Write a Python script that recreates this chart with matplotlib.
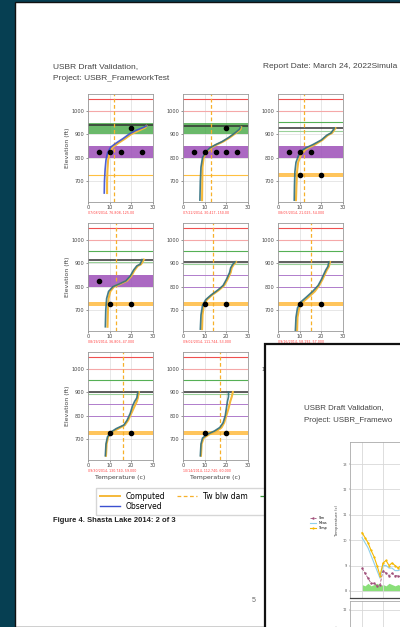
import matplotlib.pyplot as plt
from matplotlib.patches import Rectangle
from matplotlib.lines import Line2D

W, H = 400, 627

# ---- profile data (temperature in c, elevation in ft) ----
obs_temp = [
    [7.5, 7.6, 7.9, 8.3, 9.0, 10.5, 13.0, 16.0, 19.0, 22.0, 25.5, 27.0],
    [7.8, 8.0, 8.3, 9.0, 10.5, 12.5, 15.0, 18.0, 21.0, 24.0, 26.0, 26.5],
    [7.5, 7.6, 7.8, 8.3, 9.5, 11.0, 13.0, 16.0, 20.0, 22.5, 24.5, 26.0],
    [8.0, 8.2, 8.6, 9.5, 11.5, 14.5, 17.5, 19.5, 21.0, 22.5, 24.0, 25.0],
    [8.0, 8.3, 9.0, 10.5, 13.0, 16.0, 18.5, 20.0, 21.5, 22.0, 23.0, 24.0],
    [8.0, 8.3, 9.0, 10.5, 13.0, 16.0, 18.5, 20.0, 21.0, 22.0, 23.0, 23.5],
    [8.0, 8.3, 9.0, 10.5, 13.0, 16.5, 18.0, 19.5, 20.5, 21.5, 22.5, 23.0],
    [8.0, 8.3, 9.0, 11.0, 14.5, 17.0, 18.5, 19.5, 20.0, 20.5, 21.0, 21.0],
    [8.0, 8.3, 9.0, 11.0, 14.5, 17.0, 18.5, 19.5, 20.0, 20.5, 21.0, 21.0],
]
obs_elev = [
    [650, 700, 750, 790, 820, 845, 862, 880, 900, 915, 928, 935],
    [620, 700, 760, 800, 825, 842, 855, 868, 885, 905, 920, 930],
    [620, 680, 740, 780, 810, 830, 842, 855, 875, 895, 905, 925],
    [630, 700, 750, 780, 800, 812, 825, 845, 870, 888, 895, 915],
    [620, 680, 720, 745, 765, 785, 805, 830, 860, 880, 895, 905],
    [610, 670, 710, 735, 755, 780, 805, 830, 850, 870, 885, 905],
    [630, 680, 710, 730, 745, 760, 780, 810, 840, 860, 875, 900],
    [630, 680, 705, 720, 735, 750, 770, 800, 830, 860, 880, 900],
    [630, 680, 705, 720, 735, 750, 770, 800, 830, 860, 880, 900],
]
comp_temp = [
    [8.8, 8.8, 9.0, 9.3, 10.0, 11.5, 14.0, 17.0, 20.0, 23.5, 26.5, 27.0],
    [8.8, 8.9, 9.0, 9.5, 11.0, 13.0, 15.5, 18.5, 21.5, 24.5, 26.5, 26.8],
    [8.3, 8.5, 8.8, 9.3, 10.5, 12.0, 14.0, 17.0, 20.5, 23.0, 25.0, 26.5],
    [9.0, 9.2, 9.5, 10.3, 12.0, 15.0, 18.0, 20.0, 21.5, 23.0, 24.5, 25.8],
    [8.8, 9.0, 9.6, 11.0, 13.5, 16.5, 19.0, 20.5, 22.0, 22.5, 23.5, 24.5],
    [8.8, 9.0, 9.8, 11.5, 14.0, 17.0, 19.0, 20.5, 21.5, 22.5, 23.5, 24.0],
    [8.3, 8.6, 9.3, 11.0, 14.0, 17.0, 18.5, 20.0, 21.5, 22.5, 23.0, 23.5],
    [8.3, 8.6, 9.5, 12.0, 15.5, 17.8, 19.0, 20.0, 21.0, 21.8, 22.5, 23.0],
    [8.3, 8.6, 9.5, 12.0, 15.5, 17.8, 19.0, 20.0, 21.0, 21.8, 22.5, 23.0],
]
comp_elev = obs_elev

dot_temp = [[5, 10, 15, 25, 20], [5, 10, 15, 20, 25, 20], [5, 10, 15, 10, 20],
            [5, 10, 20], [10, 20], [10, 20], [10, 20], [10, 20], [10, 20]]
dot_elev = [[825, 825, 825, 825, 925], [825, 825, 825, 825, 825, 925],
            [825, 825, 825, 725, 725], [825, 725, 725], [725, 725],
            [725, 725], [725, 725], [725, 725], [725, 725]]

tw_dam = [12, 13, 12, 13, 14, 15, 16, 17, 17]
dark_elev = [940, 935, 925, 915, 905, 905, 900, 900, 900]
green_band = [True, True, False, False, False, False, False, False, False]
purple_band = [True, True, True, True, False, False, False, False, False]
orange_band = [False, False, True, True, True, True, True, True, True]

date_notes = ["07/08/2014, 76.808, 125.00", "07/22/2014, 30.417, 150.00",
              "08/05/2014, 21.025, 54.000", "08/19/2014, 36.806, 47.000",
              "09/02/2014, 111.744, 53.000", "09/16/2014, 58.192, 57.000",
              "09/30/2014, 130.740, 59.000", "10/14/2014, 112.740, 60.000",
              "10/28/2014, 98.110, 61.000"]

# ---- second page time series ----
days = [0, 1, 2, 3, 4, 5, 6, 7, 8, 9, 10, 11, 12, 13, 14]
temp_series = [10.3, 10.1, 9.9, 9.6, 9.35, 9.0, 8.6, 9.1, 9.2, 9.0, 9.1, 9.0, 8.9, 9.0, 8.9]
meas_series = [10.1, 9.9, 9.7, 9.4, 9.1, 8.8, 8.5, 9.0, 9.0, 8.9, 8.9, 8.8, 8.8, 8.85, 8.8]
sim_series = [8.9, 8.7, 8.5, 8.3, 8.3, 8.2, 8.25, 8.8, 8.7, 8.6, 8.7, 8.6, 8.6, 8.55, 8.6]
band_top = [8.25, 8.2, 8.3, 8.2, 8.25, 8.3, 8.2, 8.25, 8.2, 8.3, 8.25, 8.2, 8.25, 8.2, 8.25]


def box(x, y, w, h):
    return [x / W, 1 - (y + h) / H, w / W, h / H]


fig = plt.figure(figsize=(4, 6.27), dpi=100, facecolor='#063f52')

# main page
fig.add_artist(Rectangle((15 / W, 0), 1, 1 - 2 / H, transform=fig.transFigure,
                         facecolor='white', edgecolor='#111111', lw=1.0, zorder=-5))

hdr = dict(family='Liberation Sans', fontsize=6, color='#444444')
fig.text(53 / W, 1 - 67 / H, 'USBR Draft Validation,', va='center', **hdr)
fig.text(53 / W, 1 - 79 / H, 'Project: USBR_FrameworkTest', va='center', **hdr)
fig.text(263 / W, 1 - 67 / H, 'Report Date: March 24, 2022Simula', va='center', **hdr)

col_x = [88, 183, 278]
row_y = [94, 223, 352]
for i in range(9):
    r, c = divmod(i, 3)
    ax = fig.add_axes(box(col_x[c], row_y[r], 65, 108))
    ax.set_xlim(0, 30)
    ax.set_ylim(612, 1070)
    ax.set_xticks([0, 10, 20, 30])
    ax.set_yticks([700, 800, 900, 1000])
    ax.grid(True, color='#dddddd', lw=0.5)
    ax.set_axisbelow(True)
    for s in ax.spines.values():
        s.set_color('#999999')
        s.set_linewidth(0.6)
    ax.tick_params(labelsize=3.6, length=1.5, width=0.4, pad=1, colors='#444444')

    ax.axhline(1050, color='#f05050', lw=0.8)
    ax.axhline(1000, color='#f5a8a8', lw=0.8)
    if green_band[i]:
        ax.axhspan(900, 945, color='#45a845', alpha=0.8, lw=0)
    else:
        ax.axhline(950, color='#55b055', lw=0.8)
        ax.axhline(dark_elev[i] - 10, color='#9ad19a', lw=0.8)
    ax.axhline(dark_elev[i], color='#333333', lw=1.1)
    if purple_band[i]:
        ax.axhspan(800, 850, color='#9c4fb8', alpha=0.85, lw=0)
    else:
        ax.axhline(850, color='#b07ccc', lw=0.7)
        ax.axhline(800, color='#b07ccc', lw=0.7)
    if orange_band[i]:
        ax.axhspan(717, 737, color='#ffb733', alpha=0.8, lw=0)
    else:
        ax.axhline(727, color='#ffc040', lw=0.8)

    ax.axvline(tw_dam[i], color='#f7b02a', lw=0.9, ls=(0, (3, 2)))
    ax.plot(comp_temp[i], comp_elev[i], color='#f5b93a', lw=1.5)
    ax.plot(obs_temp[i], obs_elev[i], color='#3b50d0' if i == 0 else '#2f6f7f', lw=1.2, alpha=0.9)
    ax.plot(dot_temp[i], dot_elev[i], 'o', color='black', ms=3)
    ax.text(0, -0.1, date_notes[i], transform=ax.transAxes, color='#ff4040',
            fontsize=2.3, va='center')
    if c == 0:
        ax.set_ylabel('Elevation (ft)', fontsize=4.5, labelpad=1.5, color='#444444')
    if r == 2:
        ax.set_xlabel('Temperature (c)', fontsize=4.5, labelpad=5, color='#444444')

handles = [Line2D([], [], color='#f5b93a', lw=1.4),
           Line2D([], [], color='#3b50d0', lw=1.0),
           Line2D([], [], color='#f7b02a', lw=0.9, ls=(0, (3, 2))),
           Line2D([], [], color='#3a9a3a', lw=0.9, ls=(0, (3, 2)))]
labels = ['Computed', 'Observed', 'Tw blw dam', 'Gate Elev']
fig.legend(handles, labels, ncol=3, loc='upper left', bbox_to_anchor=(92 / W, 1 - 484 / H),
           frameon=True, edgecolor='#cccccc', fancybox=False,
           handlelength=2.6, columnspacing=1.6, borderpad=0.5, labelspacing=0.2,
           prop={'family': 'DejaVu Sans', 'size': 5.5})

fig.text(53 / W, 1 - 521 / H, 'Figure 4. Shasta Lake 2014: 2 of 3', family='Liberation Sans',
         fontsize=5.5, fontweight='bold', va='center', color='#222222')
fig.text(252 / W, 1 - 601 / H, '5', family='Liberation Sans', fontsize=5,
         va='center', color='#666666')

# overlapping second page
fig.add_artist(Rectangle((265 / W, -0.01), 1, 1 - 344 / H + 0.01, transform=fig.transFigure,
                         facecolor='white', edgecolor='#111111', lw=1.6, zorder=20))
hdr2 = dict(family='Liberation Sans', fontsize=5.7, color='#444444', zorder=22)
fig.text(304 / W, 1 - 408 / H, 'USBR Draft Validation,', va='center', **hdr2)
fig.text(304 / W, 1 - 420 / H, 'Project: USBR_Framewo', va='center', **hdr2)

ax2 = fig.add_axes(box(350, 442, 100, 156))
ax2.set_zorder(21)
ax2.set_xlim(-4, 29.3)
ax2.set_ylim(7.72, 13.87)
ax2.set_xticks([0, 7, 14, 21, 28])
ax2.set_yticks([8, 9, 10, 11, 12, 13])
ax2.set_xticklabels([])
ax2.grid(True, color='#d8d8d8', lw=0.6)
ax2.tick_params(labelsize=2.5, length=1, width=0.3, pad=1, colors='#555555')
for s in ax2.spines.values():
    s.set_color('#aaaaaa')
    s.set_linewidth(0.6)
ax2.spines['bottom'].set_color('#444444')
ax2.spines['bottom'].set_linewidth(0.9)
ax2.fill_between(days, 8.0, band_top, color='#7ddc6a', alpha=0.9, lw=0)
ax2.plot(days, sim_series, color='#a0507a', lw=0.6, ls='--', marker='.', ms=1.5, label='Sim')
ax2.plot(days, meas_series, color='#8fd0ea', lw=0.8, label='Meas')
ax2.plot(days, temp_series, color='#f5b800', lw=0.8, marker='.', ms=1.2, label='Temp')
ax2.set_ylabel('Temperature (c)', fontsize=2.8, labelpad=3, color='#444444')
ax2.legend(loc='center right', bbox_to_anchor=(-0.2, 0.48), fontsize=2.3, frameon=False,
           handlelength=2.0, labelspacing=0.3)

ax3 = fig.add_axes(box(350, 601, 100, 60))
ax3.set_zorder(21)
ax3.set_xlim(-4, 29.3)
ax3.set_ylim(0, 14)
ax3.set_yticks([12])
ax3.set_xticks([0, 7, 14, 21, 28])
ax3.set_xticklabels([])
ax3.grid(True, color='#d8d8d8', lw=0.6)
ax3.tick_params(labelsize=2.5, length=1, width=0.3, pad=1, colors='#555555')
for s in ax3.spines.values():
    s.set_color('#aaaaaa')
    s.set_linewidth(0.6)
ax3.set_ylabel('Temp', fontsize=2.8, labelpad=3, color='#444444')

fig.savefig('out.png', dpi=100, facecolor=fig.get_facecolor())
